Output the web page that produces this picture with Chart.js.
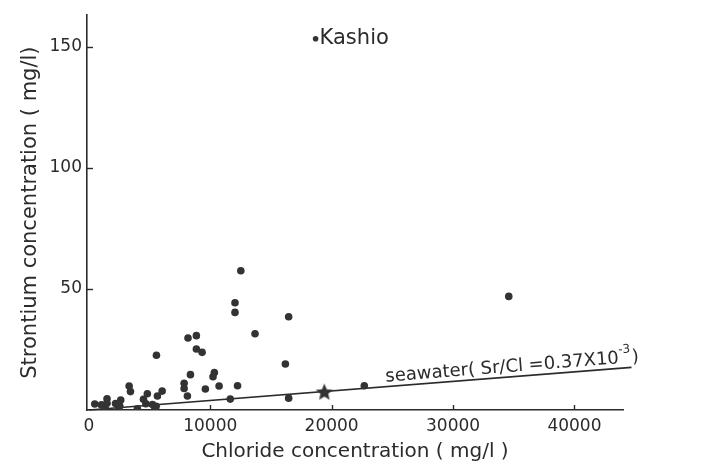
<!DOCTYPE html>
<html>
<head>
<meta charset="utf-8">
<script src="https://cdn.jsdelivr.net/npm/chart.js@4/dist/chart.umd.min.js"></script>
<style>
  html, body { margin: 0; padding: 0; background: #fff; }
  #c { display: block; }
</style>
</head>
<body>
<canvas id="c" width="706" height="462"></canvas>
<script>
// ---- data ----
const CHLORIDE = [490, 1040, 1340, 1500, 1500, 2200, 2450, 2550, 2630, 3320, 3430, 4000, 4500, 4700, 4820, 5240, 5450, 5550, 5650, 6040, 5570, 7850, 7850, 8120, 8170, 8860, 8860, 9330, 8370, 9600, 10340, 10230, 10730, 11650, 12040, 12040, 12250, 12520, 13690, 16190, 16460, 16460, 22690, 34590];
const STRONTIUM = [2.5, 2.1, 1.2, 4.6, 2.8, 2.7, 0.5, 1.6, 4.1, 9.9, 7.6, 0.5, 4.4, 2.6, 6.7, 2.3, 0.7, 1.5, 5.8, 7.8, 22.6, 11.0, 8.9, 5.8, 29.7, 30.7, 25.2, 23.8, 14.6, 8.7, 15.5, 13.7, 9.9, 4.5, 44.3, 40.3, 10.0, 57.5, 31.5, 19.0, 38.5, 4.9, 10.0, 46.9];
const KASHIO = [18680, 153.3];
const KASHIO_LABEL = "Kashio";
const SEAWATER_POINT = [19400, 7.2];
const SEAWATER_LINE_CL = [0, 44700];
const SEAWATER_LINE_SR = [0, 17.6];
const SEAWATER_LABEL = "seawater( Sr/Cl =0.37X10";
const SEAWATER_SUP = "-3";
const X_TICKS = [0, 10000, 20000, 30000, 40000];
const Y_TICKS = [50, 100, 150];
const X_TITLE = "Chloride concentration ( mg/l )";
const Y_TITLE = "Strontium concentration ( mg/l)";

const INK = '#2b2b2b';
const FONT = 'DejaVu Sans';
const TICK = 17;

function makeStar(r) {
  const c = document.createElement('canvas');
  c.width = c.height = 2 * r + 2;
  const g = c.getContext('2d');
  g.beginPath();
  for (let i = 0; i < 10; i++) {
    const a = -Math.PI / 2 + i * Math.PI / 5;
    const rr = i % 2 ? r * 0.45 : r;
    g.lineTo(r + 1 + rr * Math.cos(a), r + 1 + rr * Math.sin(a));
  }
  g.closePath();
  g.fillStyle = '#333';
  g.fill();
  return c;
}

const samplePts = CHLORIDE.map((v, i) => ({ x: v, y: STRONTIUM[i] }));
const linePts = SEAWATER_LINE_CL.map((v, i) => ({ x: v, y: SEAWATER_LINE_SR[i] }));

const annot = {
  id: 'annot',
  afterDatasetsDraw(chart) {
    const { ctx, scales: { x, y } } = chart;
    ctx.save();
    ctx.strokeStyle = INK;
    ctx.lineWidth = 1.4;
    X_TICKS.forEach(v => {
      if (v === 0) return;
      const px = Math.round(x.getPixelForValue(v)) + 0.5;
      ctx.beginPath(); ctx.moveTo(px, y.bottom); ctx.lineTo(px, y.bottom - 5); ctx.stroke();
    });
    Y_TICKS.forEach(v => {
      const py = Math.round(y.getPixelForValue(v)) + 0.5;
      ctx.beginPath(); ctx.moveTo(x.left, py); ctx.lineTo(x.left + 6, py); ctx.stroke();
    });
    // Kashio label
    const kx = x.getPixelForValue(KASHIO[0]), ky = y.getPixelForValue(KASHIO[1]);
    ctx.fillStyle = INK;
    ctx.font = '21px ' + FONT;
    ctx.textBaseline = 'middle';
    ctx.textAlign = 'left';
    ctx.fillText(KASHIO_LABEL, kx + 4, ky);
    // seawater label along the line
    const x0 = x.getPixelForValue(SEAWATER_LINE_CL[0]), y0 = y.getPixelForValue(SEAWATER_LINE_SR[0]);
    const x1 = x.getPixelForValue(SEAWATER_LINE_CL[1]), y1 = y.getPixelForValue(SEAWATER_LINE_SR[1]);
    const ang = Math.atan2(y1 - y0, x1 - x0);
    const sx = x.getPixelForValue(24500);
    const t = (sx - x0) / (x1 - x0);
    const sy = y0 + t * (y1 - y0);
    ctx.translate(sx, sy);
    ctx.rotate(ang);
    ctx.textBaseline = 'alphabetic';
    ctx.font = '18px ' + FONT;
    ctx.fillText(SEAWATER_LABEL, 0, -5);
    const w = ctx.measureText(SEAWATER_LABEL).width;
    ctx.font = '12px ' + FONT;
    ctx.fillText(SEAWATER_SUP, w, -15);
    const w2 = ctx.measureText(SEAWATER_SUP).width;
    ctx.font = '18px ' + FONT;
    ctx.fillText(')', w + w2 + 1, -5);
    ctx.restore();
  }
};

new Chart(document.getElementById('c'), {
  type: 'scatter',
  data: {
    datasets: [
      { data: samplePts, backgroundColor: '#333', borderColor: '#333', pointRadius: 3.8, pointHoverRadius: 3.8, borderWidth: 0 },
      { data: [{ x: KASHIO[0], y: KASHIO[1] }], backgroundColor: '#333', borderColor: '#333', pointRadius: 2.8, borderWidth: 0 },
      { data: [{ x: SEAWATER_POINT[0], y: SEAWATER_POINT[1] }], pointStyle: makeStar(9), pointRadius: 9 },
      { data: linePts, showLine: true, borderColor: INK, borderWidth: 1.6, pointRadius: 0, clip: false, order: 5 }
    ]
  },
  options: {
    responsive: false,
    animation: false,
    layout: { padding: { top: 13, right: 83, left: 0, bottom: 0 } },
    plugins: { legend: { display: false }, tooltip: { enabled: false } },
    scales: {
      x: {
        type: 'linear', min: -150, max: 44000,
        afterFit: s => { s.height = 52; },
        afterBuildTicks: s => { s.ticks = X_TICKS.map(v => ({ value: v })); },
        grid: { display: false, drawTicks: false },
        border: { display: true, color: INK, width: 1.6 },
        ticks: { color: INK, font: { family: FONT, size: TICK }, padding: 6, maxRotation: 0, autoSkip: false, callback: v => String(v) },
        title: { display: true, text: X_TITLE, color: INK, font: { family: FONT, size: 20 }, padding: { top: 0, bottom: -2 } }
      },
      y: {
        type: 'linear', min: 0, max: 163,
        afterFit: s => { s.width = 87; },
        afterBuildTicks: s => { s.ticks = Y_TICKS.map(v => ({ value: v })); },
        grid: { display: false, drawTicks: false },
        border: { display: true, color: INK, width: 1.6 },
        ticks: { color: INK, font: { family: FONT, size: TICK }, padding: 5, autoSkip: false, callback: v => String(v) },
        title: { display: true, text: Y_TITLE, color: INK, font: { family: FONT, size: 21 }, padding: { top: 18, bottom: 0 } }
      }
    }
  },
  plugins: [annot]
});
</script>
</body>
</html>
